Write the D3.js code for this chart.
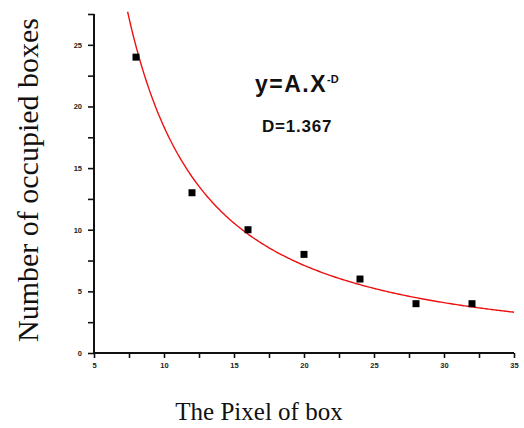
<!DOCTYPE html>
<html>
<head>
<meta charset="utf-8">
<script src="https://cdn.jsdelivr.net/npm/d3@7"></script>
<style>
  body { margin: 0; background: #fff; }
  svg { display: block; }
</style>
</head>
<body>
<div id="chart"></div>
<script>
// ── Data ──
const pixelSize = [8, 12, 16, 20, 24, 28, 32];
const occupied  = [24, 13, 10, 8, 6, 4, 4];
const xTicks = [5, 10, 15, 20, 25, 30, 35];
const yTicks = [0, 5, 10, 15, 20, 25];
const fitA = 427, fitD = 1.367;

const W = 524, H = 428;
const svg = d3.select("#chart").append("svg").attr("width", W).attr("height", H);

const x = d3.scaleLinear().domain([5, 35]).range([94, 514]);
const y = d3.scaleLinear().domain([0, 27.5]).range([353, 14]);

// ── Axes ──
const xAxis = d3.axisBottom(x).tickValues(d3.range(5, 35.1, 2.5))
  .tickSize(5).tickPadding(5)
  .tickFormat(d => xTicks.includes(d) ? d : "");
const yAxis = d3.axisLeft(y).tickValues(d3.range(0, 27.6, 2.5))
  .tickSize(6).tickPadding(6)
  .tickFormat(d => yTicks.includes(d) ? d : "");

const gx = svg.append("g").attr("transform", `translate(0,${y(0)})`).call(xAxis);
const gy = svg.append("g").attr("transform", `translate(${x(5)},0)`).call(yAxis);

[gx, gy].forEach(g => {
  g.select(".domain").attr("stroke", "#111").attr("stroke-width", 2);
  g.selectAll(".tick line").attr("stroke", "#111").attr("stroke-width", 1.6);
  g.selectAll(".tick text")
    .attr("font-family", "Liberation Sans, Arial, sans-serif")
    .attr("font-weight", "bold").attr("font-size", 7.5).attr("fill", "#222");
});
gx.select(".domain").attr("d", `M${x(5)},0H${x(35)}`);
gy.select(".domain").attr("d", `M0,${y(0)}V${y(27.5)}`);

// ── Fit curve ──
const curveX = d3.range(7.4, 35.01, 0.1);
const line = d3.line().x(d => x(d)).y(d => y(fitA * Math.pow(d, -fitD)));
svg.append("path").datum(curveX)
  .attr("d", line).attr("fill", "none")
  .attr("stroke", "#ee1111").attr("stroke-width", 1.4);

// ── Points ──
const s = 7;
svg.selectAll("rect.pt").data(pixelSize).enter().append("rect")
  .attr("class", "pt")
  .attr("x", (d) => x(d) - s / 2)
  .attr("y", (d, i) => y(occupied[i]) - s / 2)
  .attr("width", s).attr("height", s).attr("fill", "#000");

// ── Annotations ──
const eq = svg.append("text").attr("x", 255).attr("y", 92)
  .attr("font-family", "Liberation Sans, Arial, sans-serif")
  .attr("font-weight", "bold").attr("font-size", 23).attr("fill", "#111");
eq.append("tspan").attr("letter-spacing", 1.5).text("y=A.X");
eq.append("tspan").attr("font-size", 11).attr("dy", -9).text("-D");

svg.append("text").attr("x", 262).attr("y", 132)
  .attr("font-family", "Liberation Sans, Arial, sans-serif")
  .attr("font-weight", "bold").attr("font-size", 17).attr("fill", "#111")
  .attr("letter-spacing", 0.8)
  .text("D=1.367");

// ── Axis titles ──
svg.append("text")
  .attr("transform", `translate(38,${(12 + 348) / 2}) rotate(-90)`)
  .attr("text-anchor", "middle")
  .attr("font-family", "Liberation Serif, Times New Roman, serif")
  .attr("font-size", 30).attr("fill", "#111")
  .text("Number of occupied  boxes");

svg.append("text").attr("x", 259).attr("y", 420)
  .attr("text-anchor", "middle")
  .attr("font-family", "Liberation Serif, Times New Roman, serif")
  .attr("font-size", 25).attr("fill", "#111")
  .text("The Pixel of box");
</script>
</body>
</html>
